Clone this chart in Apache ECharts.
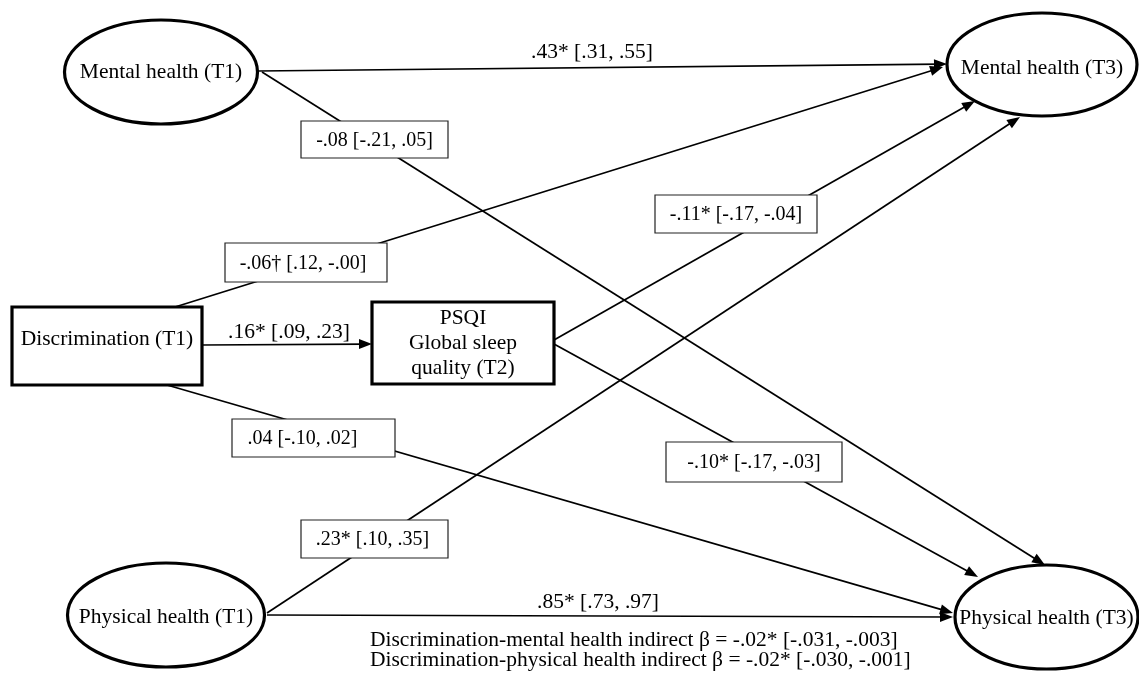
<!DOCTYPE html>
<html>
<head>
<meta charset="utf-8">
<script src="https://cdn.jsdelivr.net/npm/echarts@6/dist/echarts.min.js"></script>
<style>
html,body{margin:0;padding:0;background:#ffffff;}
#chart{width:1139px;height:689px;}
</style>
</head>
<body>
<div id="chart"></div>
<script>
// ---------------- data ----------------
const nodeNames = [
  'Mental health (T1)',
  'Discrimination (T1)',
  'PSQI\nGlobal sleep\nquality (T2)',
  'Physical health (T1)',
  'Mental health (T3)',
  'Physical health (T3)'
];
// path model: source node index -> target node index
const pathFrom = [0, 0, 1, 1, 1, 2, 2, 3, 3];
const pathTo   = [4, 5, 4, 2, 5, 4, 5, 4, 5];
const pathEstimates = ['.43*', '-.08', '-.06\u2020', '.16*', '.04', '-.11*', '-.10*', '.23*', '.85*'];
const pathCIs = ['[.31, .55]', '[-.21, .05]', '[.12, -.00]', '[.09, .23]', '[-.10, .02]', '[-.17, -.04]', '[-.17, -.03]', '[.10, .35]', '[.73, .97]'];
const notes = [
  'Discrimination-mental health indirect \u03B2 = -.02* [-.031, -.003]',
  'Discrimination-physical health indirect \u03B2 = -.02* [-.030, -.001]'
];

// ---------------- layout (pixel space) ----------------
const nodeCenter = [[161, 72], [107, 346], [463, 343], [166, 615], [1042, 64.5], [1046.5, 617]];
const nodeSize = [[193, 104], [190, 78], [182, 82], [197, 104], [190, 103], [183, 104]];
const nodeShape = ['ellipse', 'rect', 'rect', 'ellipse', 'ellipse', 'ellipse'];
const nodeLabelShift = [[0, 0], [0, -7], [0, 0], [0, 2], [0, 4], [0, 1]];
const pathStart = [[258, 71], [262, 72], [175, 307], [202, 345], [167, 385], [554, 340], [554, 344], [267, 613], [267, 615]];
const pathTip = [[947, 64], [1045, 565], [943, 67], [372, 344], [953, 613], [975, 101], [978, 577], [1020, 117], [953, 617]];
const labelCenter = [[592, 52], [374.5, 139.5], [306, 262.5], [289, 332], [313.5, 438], [736, 214], [754, 462], [374.5, 539], [598, 602]];
const labelBox = [null, [147, 37], [162, 39], null, [163, 38], [162, 38], [176, 40], [147, 38], null];
const labelTextShift = [[0, 0], [0, 1], [-3, 1], [0, 0], [-11, 1], [0, 1], [0, 1], [-2, 1], [0, 0]];
const notePos = [[370, 640], [370, 660]];

const FONT_FAMILY = '"Liberation Serif", "Times New Roman", serif';
const ARROW_W = 10, ARROW_L = 13;

// ---------------- build ----------------
const edgeData = pathFrom.map((f, i) => {
  const s = pathStart[i], t = pathTip[i];
  const dx = t[0] - s[0], dy = t[1] - s[1];
  const L = Math.hypot(dx, dy);
  const e = [t[0] - dx / L * ARROW_L / 2, t[1] - dy / L * ARROW_L / 2];
  return { name: nodeNames[f] + ' -> ' + nodeNames[pathTo[i]], coords: [s, e] };
});

const nodeData = nodeNames.map((name, i) => ({ name: name, value: [nodeCenter[i][0], nodeCenter[i][1], nodeSize[i][0], nodeSize[i][1]] }));
const labelData = pathEstimates.map((est, i) => ({
  name: est + ' ' + pathCIs[i],
  value: [labelCenter[i][0], labelCenter[i][1], labelBox[i] ? labelBox[i][0] : 0, labelBox[i] ? labelBox[i][1] : 0]
}));
const noteData = notes.map((t, i) => ({ name: t, value: notePos[i] }));

function renderNode(params, api) {
  const i = params.dataIndex;
  const c = api.coord([api.value(0), api.value(1)]);
  const sz = api.size([api.value(2), api.value(3)]);
  const frame = nodeShape[i] === 'ellipse'
    ? { type: 'ellipse', shape: { cx: c[0], cy: c[1], rx: sz[0] / 2, ry: sz[1] / 2 } }
    : { type: 'rect', shape: { x: c[0] - sz[0] / 2, y: c[1] - sz[1] / 2, width: sz[0], height: sz[1] } };
  frame.style = { fill: '#ffffff', stroke: '#000000', lineWidth: 3.2 };
  return {
    type: 'group',
    children: [frame, {
      type: 'text',
      style: {
        text: nodeNames[i], x: c[0] + nodeLabelShift[i][0], y: c[1] + nodeLabelShift[i][1],
        align: 'center', verticalAlign: 'middle',
        fontFamily: FONT_FAMILY, fontSize: 21.5, lineHeight: 25, fill: '#000000'
      }
    }]
  };
}

function renderLabel(params, api) {
  const i = params.dataIndex;
  const c = api.coord([api.value(0), api.value(1)]);
  const boxed = !!labelBox[i];
  const children = [];
  if (boxed) {
    const sz = api.size([api.value(2), api.value(3)]);
    children.push({
      type: 'rect',
      shape: { x: c[0] - sz[0] / 2, y: c[1] - sz[1] / 2, width: sz[0], height: sz[1] },
      style: { fill: '#ffffff', stroke: '#222222', lineWidth: 1.2 }
    });
  }
  children.push({
    type: 'text',
    style: {
      text: pathEstimates[i] + ' ' + pathCIs[i],
      x: c[0] + labelTextShift[i][0], y: c[1] + labelTextShift[i][1],
      align: 'center', verticalAlign: 'middle',
      fontFamily: FONT_FAMILY, fontSize: boxed ? 20 : 21.5, fill: '#000000'
    }
  });
  return { type: 'group', children: children };
}

function renderNote(params, api) {
  const i = params.dataIndex;
  const c = api.coord([api.value(0), api.value(1)]);
  return {
    type: 'text',
    style: {
      text: notes[i], x: c[0], y: c[1], align: 'left', verticalAlign: 'middle',
      fontFamily: FONT_FAMILY, fontSize: 21.5, fill: '#000000'
    }
  };
}

const chart = echarts.init(document.getElementById('chart'), null, { renderer: 'canvas' });
chart.setOption({
  animation: false,
  backgroundColor: '#ffffff',
  grid: { left: 0, right: 0, top: 0, bottom: 0 },
  xAxis: { type: 'value', min: 0, max: 1139, show: false },
  yAxis: { type: 'value', min: 0, max: 689, inverse: true, show: false },
  series: [
    {
      type: 'lines',
      coordinateSystem: 'cartesian2d',
      silent: true,
      z: 1,
      symbol: ['none', 'triangle'],
      symbolSize: [[ARROW_W, ARROW_L], [ARROW_W, ARROW_L]],
      lineStyle: { color: '#000000', width: 1.7, opacity: 1, curveness: 0 },
      itemStyle: { color: '#000000' },
      data: edgeData
    },
    {
      type: 'custom',
      coordinateSystem: 'cartesian2d',
      silent: true,
      z: 2,
      clip: false,
      renderItem: renderLabel,
      data: labelData
    },
    {
      type: 'custom',
      coordinateSystem: 'cartesian2d',
      silent: true,
      z: 3,
      clip: false,
      renderItem: renderNode,
      data: nodeData
    },
    {
      type: 'custom',
      coordinateSystem: 'cartesian2d',
      silent: true,
      z: 4,
      clip: false,
      renderItem: renderNote,
      data: noteData
    }
  ]
});
</script>
</body>
</html>
